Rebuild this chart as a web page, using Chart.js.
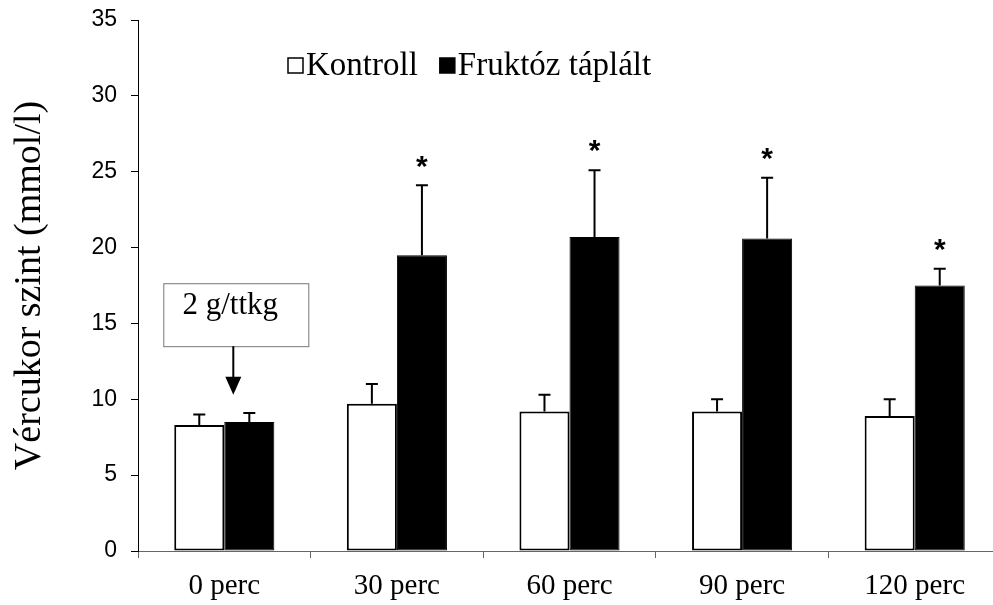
<!DOCTYPE html>
<html>
<head>
<meta charset="utf-8">
<script src="https://cdn.jsdelivr.net/npm/chart.js@4.4.1/dist/chart.umd.min.js"></script>
<style>
    html, body { margin: 0; padding: 0; background: #fff; overflow: hidden; }
    #wrap { width: 1010px; height: 605px; }
</style>
</head>
<body>
<div id="wrap"><canvas id="glucoseChart"></canvas></div>
<script>
// data
const categories = ['0 perc', '30 perc', '60 perc', '90 perc', '120 perc'];
const kontrollMean = [8.3, 9.7, 9.2, 9.2, 8.9];
const kontrollSD = [0.7, 1.3, 1.1, 0.8, 1.1];
const fruktozMean = [8.5, 19.5, 20.7, 20.6, 17.5];
const fruktozSD = [0.6, 4.6, 4.4, 4.0, 1.1];
const significant = [false, true, true, true, true];
const yTicks = [0, 5, 10, 15, 20, 25, 30, 35];
const seriesLabels = ['Kontroll', 'Fruktóz táplált'];
const annotationText = '2 g/ttkg';

const SERIF = '"Liberation Serif", "Times New Roman", serif';
const SANS = '"Liberation Sans", Arial, sans-serif';

// error bars (upward only) + asterisks
const errorBarPlugin = {
    id: 'errorBars',
    afterDatasetsDraw(chart) {
        const ctx = chart.ctx;
        const y = chart.scales.y;
        ctx.save();
        ctx.strokeStyle = '#000';
        ctx.lineWidth = 2;
        chart.data.datasets.forEach((ds, di) => {
            const meta = chart.getDatasetMeta(di);
            meta.data.forEach((bar, i) => {
                const top = y.getPixelForValue(ds.data[i]);
                const errTop = y.getPixelForValue(ds.data[i] + ds.sd[i]);
                ctx.beginPath();
                ctx.moveTo(bar.x, top);
                ctx.lineTo(bar.x, errTop);
                ctx.moveTo(bar.x - 6, errTop);
                ctx.lineTo(bar.x + 6, errTop);
                ctx.stroke();
                if (ds.stars && ds.stars[i]) {
                    ctx.fillStyle = '#000';
                    ctx.font = 'bold 30px ' + SANS;
                    ctx.textAlign = 'center';
                    ctx.textBaseline = 'middle';
                    ctx.fillText('*', bar.x, errTop - 18);
                }
            });
        });
        ctx.restore();
    }
};

// legend + dose box with arrow
const extrasPlugin = {
    id: 'extras',
    afterDraw(chart) {
        const ctx = chart.ctx;
        const x = chart.scales.x;
        const y = chart.scales.y;
        ctx.save();

        // legend
        ctx.font = '33px ' + SERIF;
        ctx.textBaseline = 'middle';
        ctx.textAlign = 'left';
        let lx = 288;
        const ly = 66;
        chart.data.datasets.forEach((ds) => {
            ctx.fillStyle = ds.backgroundColor;
            ctx.fillRect(lx, ly - 8, 15, 15);
            ctx.strokeStyle = '#000';
            ctx.lineWidth = 1.5;
            ctx.strokeRect(lx, ly - 8, 15, 15);
            ctx.fillStyle = '#000';
            ctx.fillText(ds.label, lx + 18, ly);
            lx += 18 + ctx.measureText(ds.label).width + 22;
        });

        // dose annotation
        const cx = x.getPixelForValue(0) + 9;
        const boxTop = y.getPixelForValue(17.65);
        const boxBot = y.getPixelForValue(13.5);
        ctx.fillStyle = '#fff';
        ctx.fillRect(cx - 69, boxTop, 145, boxBot - boxTop);
        ctx.strokeStyle = '#777';
        ctx.lineWidth = 1;
        ctx.strokeRect(cx - 69.5, boxTop + 0.5, 145, boxBot - boxTop);
        ctx.fillStyle = '#000';
        ctx.font = '31px ' + SERIF;
        ctx.textAlign = 'center';
        ctx.fillText(annotationText, cx - 3, boxTop + 23);

        const tip = y.getPixelForValue(10.3);
        ctx.strokeStyle = '#000';
        ctx.lineWidth = 2;
        ctx.beginPath();
        ctx.moveTo(cx, boxBot);
        ctx.lineTo(cx, tip - 16);
        ctx.stroke();
        ctx.beginPath();
        ctx.moveTo(cx - 8, tip - 18);
        ctx.lineTo(cx + 8, tip - 18);
        ctx.lineTo(cx, tip);
        ctx.closePath();
        ctx.fill();
        ctx.restore();
    }
};

const ctxChart = document.getElementById('glucoseChart').getContext('2d');
new Chart(ctxChart, {
    type: 'bar',
    data: {
        labels: categories,
        datasets: [
            {
                label: seriesLabels[0],
                data: kontrollMean,
                sd: kontrollSD,
                backgroundColor: '#ffffff',
                borderColor: '#000',
                borderWidth: 2,
                borderSkipped: false
            },
            {
                label: seriesLabels[1],
                data: fruktozMean,
                sd: fruktozSD,
                stars: significant,
                backgroundColor: '#000000',
                borderColor: '#000',
                borderWidth: 1,
                borderSkipped: false
            }
        ]
    },
    options: {
        responsive: true,
        maintainAspectRatio: false,
        animation: false,
        events: [],
        layout: { padding: { top: 20, right: 9, left: 0, bottom: 0 } },
        datasets: { bar: { barPercentage: 1, categoryPercentage: 0.58 } },
        plugins: {
            legend: { display: false },
            tooltip: { enabled: false }
        },
        scales: {
            x: {
                afterFit: s => { s.height = 54; s.paddingLeft = 0; s.paddingRight = 0; },
                border: { color: '#666', width: 1 },
                grid: { drawOnChartArea: false, drawTicks: true, tickLength: 7, color: '#666', offset: true },
                ticks: { color: '#000', font: { family: SERIF, size: 29 }, padding: 11 }
            },
            y: {
                min: 0,
                max: 35,
                afterFit: s => { s.width = 138; s.paddingTop = 0; s.paddingBottom = 0; },
                afterBuildTicks: s => { s.ticks = yTicks.map(v => ({ value: v })); },
                border: { color: '#000', width: 1 },
                grid: { drawOnChartArea: false, drawTicks: true, tickLength: 7, color: '#000' },
                ticks: { color: '#000', font: { family: SANS, size: 23 }, padding: 14 },
                title: {
                    display: true,
                    text: 'Vércukor szint (mmol/l)',
                    color: '#000',
                    font: { family: SERIF, size: 38 },
                    padding: { top: 7, bottom: 0 }
                }
            }
        }
    },
    plugins: [errorBarPlugin, extrasPlugin]
});
</script>
</body>
</html>
